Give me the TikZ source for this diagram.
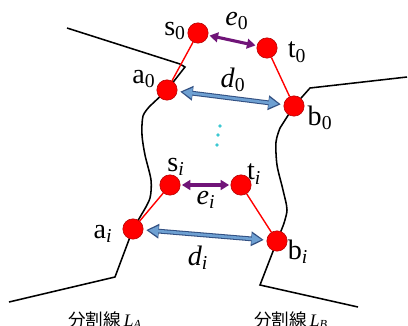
\documentclass[tikz,border=0pt]{standalone}
\usepackage{fontspec}
\setmainfont{Liberation Serif}
\newfontfamily\jpfont{Noto Sans CJK JP}
\usetikzlibrary{arrows.meta,positioning,calc}
\definecolor{ptRed}    {RGB}{255,   0,   0}
\definecolor{ePurple}  {RGB}{112,  20, 120}
\definecolor{dBlue}    {RGB}{110, 160, 210}
\definecolor{dBlueEdge}{RGB}{ 50,  80, 130}
\definecolor{dotCyan}  {RGB}{ 60, 200, 210}

\tikzset{
  pt/.style={circle,draw=ptRed!70!black,fill=ptRed,minimum size=14.5pt,inner sep=0pt,line width=0.4pt},
  lbl/.style={font=\rmfamily\fontsize{20}{22}\selectfont,inner sep=0pt},
  jplbl/.style={font=\fontsize{12.5}{14}\selectfont,inner sep=0pt,anchor=north},
  link/.style={ptRed,line width=1pt},
  border/.style={black,line width=1.1pt},
  earrow/.style={ePurple,line width=2.2pt,{Triangle[length=6pt,width=7pt]}-{Triangle[length=6pt,width=7pt]},shorten <=1pt,shorten >=1pt},
  doutline/.style={dBlueEdge,line width=3.4pt,{Triangle[length=9pt,width=10pt]}-{Triangle[length=9pt,width=10pt]},shorten <=2pt,shorten >=2pt},
  dinner/.style={dBlue,line width=1.9pt,{Triangle[length=7pt,width=7.2pt]}-{Triangle[length=7pt,width=7.2pt]},shorten <=3.6pt,shorten >=3.6pt}
}

\begin{document}
\begin{tikzpicture}[x=0.025cm,y=-0.025cm]
  \useasboundingbox (0,0) rectangle (408,325);

  % points on the two lines
  \coordinate (a0) at (167,90);
  \coordinate (b0) at (294,106);
  \coordinate (ai) at (133,229);
  \coordinate (bi) at (277,241);

  % dividing lines
  \draw[border] (67,28) -- (180,64) -- (185,67) -- (a0) -- (150,106)
    plot[smooth] coordinates {(150,106) (143,116) (142,135) (145,155) (151,180) (150,198) (143,212)}
    -- (ai) -- (115,277) -- (9,302);
  \draw[border] (407,77) -- (310,88) -- (b0) -- (280,128)
    plot[smooth] coordinates {(280,128) (276,142) (277,165) (283,190) (287,210) (283,226)}
    -- (bi) -- (260,285) -- (358,307);

  % point pairs
  \node[pt] (s0) at (198,33) {};
  \node[pt] (t0) at (267,48) {};
  \node[pt] (A0) at (a0) {};
  \node[pt] (B0) at (b0) {};
  \node[pt] (si) at (170,185) {};
  \node[pt] (ti) at (241,185) {};
  \node[pt] (Ai) at (ai) {};
  \node[pt] (Bi) at (bi) {};

  % red links
  \draw[link] (s0) -- (A0);
  \draw[link] (t0) -- (B0);
  \draw[link] (si) -- (Ai);
  \draw[link] (ti) -- (Bi);

  % distances
  \draw[earrow] (s0) -- (t0);
  \draw[earrow] (si) -- (ti);
  \draw[doutline] (A0) -- (B0);
  \draw[dinner] (A0) -- (B0);
  \draw[doutline] (Ai) -- (Bi);
  \draw[dinner] (Ai) -- (Bi);

  % labels
  \node[lbl] (ls0) at (175,31) {s\textsubscript{0}};
  \node[lbl] (le0) at (237,21) {\textit{e}\textsubscript{0}};
  \node[lbl] (lt0) at (297,52) {t\textsubscript{0}};
  \node[lbl] (la0) at (144,79) {a\textsubscript{0}};
  \node[lbl] (ld0) at (233,80) {\textit{d}\textsubscript{0}};
  \node[lbl] (lb0) at (320,118) {b\textsubscript{0}};
  \node[lbl] (lsi) at (176,167) {s\textsubscript{\textit{i}}};
  \node[lbl] (lti) at (254,174) {t\textsubscript{\textit{i}}};
  \node[lbl] (lei) at (206,200) {\textit{e}\textsubscript{\textit{i}}};
  \node[lbl] (lai) at (103,234) {a\textsubscript{\textit{i}}};
  \node[lbl] (ldi) at (198,258) {\textit{d}\textsubscript{\textit{i}}};
  \node[lbl] (lbi) at (298,252) {b\textsubscript{\textit{i}}};

  % vertical dots
  \foreach \x/\y in {220/126, 218/135, 217/145}
    \fill[dotCyan] (\x,\y) circle (1.3pt);

  % line names
  \node[jplbl] (nameA) at (105,311) {{\jpfont 分割線}\,\textit{L}\textsubscript{\textit{A}}};
  \node[jplbl] (nameB) at (291,311) {{\jpfont 分割線}\,\textit{L}\textsubscript{\textit{B}}};
\end{tikzpicture}
\end{document}
